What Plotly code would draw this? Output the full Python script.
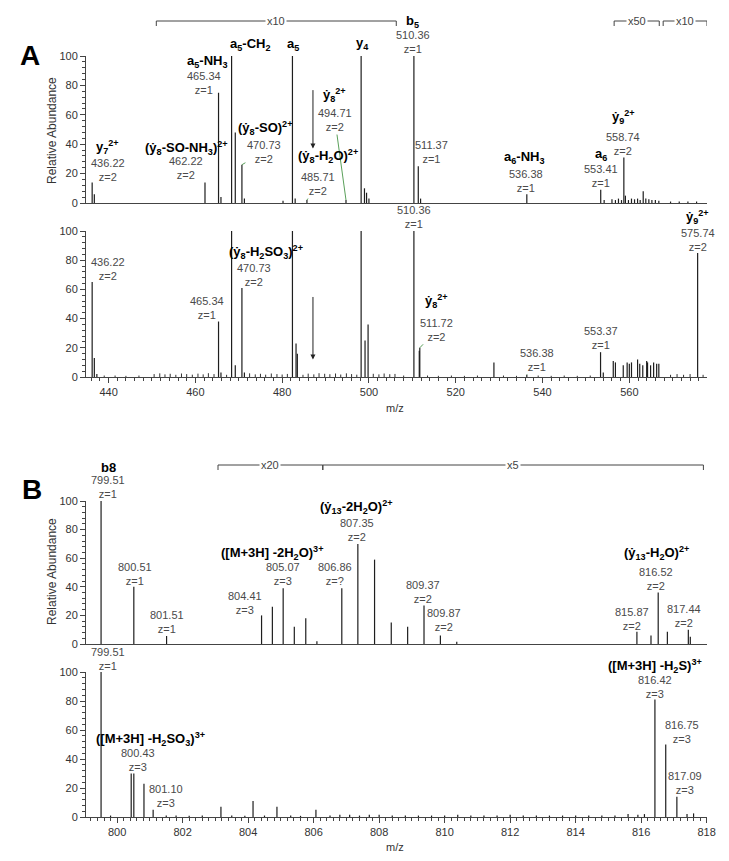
import plotly.graph_objects as go

# ---------------- data: panel A (m/z 435-578) ----------------
a_top_mz = [436.22, 436.72, 462.22, 465.34, 465.9, 468.35, 469.2, 470.73, 471.3, 480.2,
            482.37, 483.0, 485.71, 494.71, 498.2, 498.97, 499.45, 500.0, 510.36, 511.37,
            511.9, 536.38, 553.41, 554.2, 556.0, 556.8, 557.5, 558.2, 558.74, 559.1,
            559.8, 560.5, 561.2, 561.9, 562.5, 563.2, 563.8, 564.5, 565.2, 566.0,
            566.8, 569.5, 571.5, 573.5, 575.5]
a_top_int = [14, 6, 14, 75, 4, 100, 48, 26, 3, 1.5,
             100, 3, 2, 2, 100, 10, 7, 3, 100, 25,
             3, 6, 9, 2, 2.5, 2, 3, 2, 31, 5,
             2, 3, 2.5, 3, 2, 8, 3, 2.5, 2, 2,
             1.5, 1, 1, 1, 1]

a_bot_mz = [436.22, 436.72, 437.3, 465.34, 465.9, 468.35, 469.2, 470.73, 471.3, 482.37,
            483.2, 483.5, 498.2, 499.1, 499.8, 510.36, 511.6, 511.72, 528.8, 536.38,
            553.37, 554.0, 556.3, 556.8, 558.6, 559.5, 560.0, 560.5, 561.9, 562.4,
            563.1, 564.0, 564.2, 564.9, 565.6, 566.3, 566.8, 575.74]
a_bot_int = [65, 13, 2, 38, 3, 100, 8, 61, 3, 100,
             23, 16, 100, 25, 36, 100, 18, 20, 10, 1.5,
             17, 3, 11, 10, 8, 10, 9, 10, 12, 9,
             8, 11, 10, 8, 10, 9, 9, 85]

# baseline noise of the lower A spectrum
a_noise_mz = [439.0, 441.5, 444.0, 447.0, 450.5, 451.8, 453.0, 454.2, 455.5, 456.8,
              458.0, 459.3, 460.6, 461.8, 463.0, 464.3, 467.2, 472.5, 473.8, 475.0,
              476.2, 477.5, 478.8, 480.0, 481.2, 484.8, 486.0, 487.3, 488.5, 489.8,
              491.0, 492.3, 493.5, 494.8, 496.0, 497.2, 501.0, 502.3, 503.5, 504.8,
              506.0, 508.0, 513.5, 516.0, 519.0, 522.0, 525.0, 531.0, 534.0, 539.0,
              542.0, 545.0, 548.0, 551.0, 569.5, 571.0, 572.5, 574.0, 577.0]
a_noise_int = [1, 1, 0.8, 1, 2, 2.5, 1.8, 2.2, 1.5, 2.4,
               2, 1.6, 2.3, 1.8, 2.6, 2, 1.5, 2.5, 1.8, 2.2,
               1.6, 2.4, 2, 1.7, 2.1, 1.5, 2.3, 1.8, 2.6, 2.2,
               1.9, 2.4, 1.7, 2.5, 2, 1.6, 2.2, 1.8, 2.4, 1.9,
               2.1, 1, 1, 0.8, 1, 0.8, 1, 1, 0.8, 1,
               0.8, 1, 0.8, 1, 1.5, 2, 1.5, 2, 1.5]

# ---------------- data: panel B (m/z 799-818) ----------------
b_top_mz = [799.51, 800.51, 801.51, 804.41, 804.74, 805.07, 805.41, 805.76, 806.1, 806.86,
            807.35, 807.86, 808.37, 808.87, 809.37, 809.87, 810.37, 815.87, 816.3, 816.52,
            816.8, 817.44, 817.5]
b_top_int = [100, 40, 5.6, 20, 26, 39, 12, 18, 2, 39,
             70, 59, 15, 12, 27, 6, 1.5, 8.5, 6, 36,
             8.5, 10, 5]

b_bot_mz = [799.51, 799.8, 800.43, 800.51, 800.82, 801.10, 801.5, 801.8, 802.2, 802.6,
            803.17, 803.5, 803.9, 804.15, 804.5, 804.88, 805.3, 805.6, 806.07, 806.5,
            806.8, 807.1, 807.4, 807.7, 808.0, 808.4, 808.8, 809.2, 809.6, 810.0,
            810.4, 810.8, 811.2, 811.6, 812.0, 812.4, 812.8, 813.2, 813.6, 814.0,
            814.4, 814.8, 815.2, 815.6, 815.9, 816.1, 816.42, 816.75, 817.09, 817.4,
            817.6]
b_bot_int = [100, 1, 30, 30, 23, 5, 1, 1, 0.8, 1,
             7, 1, 0.8, 11, 1, 7, 1, 0.8, 5, 1,
             1.5, 1.5, 1, 1.5, 1.5, 1, 1, 1, 1, 1,
             1.5, 1, 1, 1, 1.5, 1, 1, 1, 1, 1,
             1, 1, 1, 2, 1.5, 2, 81, 50, 14, 2,
             2.5]

# magnification brackets (start m/z, end m/z, factor)
mag_a = [(451.0, 506.3, "x10"), (556.5, 566.9, "x50"), (567.8, 577.9, "x10")]
mag_b = [(803.08, 806.28, "x20"), (806.28, 817.9, "x5")]

# arrow markers (m/z of missing ion)
arrow_a_mz = 487.1

# peak labels: (peak m/z, peak intensity, text, dx px, dy px, connector colour)
GREEN = "#5aa05a"
GREY = "#777777"
blocks_a_top = [
    (436.22, 14, "436.22<br>z=2", 16, 12, GREEN),
    (462.22, 14, "462.22<br>z=2", -19, 14, None),
    (465.34, 75, "465.34<br>z=1", -15, 10, None),
    (470.73, 26, "470.73<br>z=2", 22, 13, GREEN),
    (485.71, 2, "485.71<br>z=2", 11, 16, GREEN),
    (494.71, 2, "494.71<br>z=2", -11, 80, GREEN),
    (510.36, 100, "510.36<br>z=1", -1, 14, None),
    (511.37, 25, "511.37<br>z=1", 13, 14, GREEN),
    (536.38, 6, "536.38<br>z=1", -1, 13, None),
    (553.41, 9, "553.41<br>z=1", 0, 14, None),
    (558.74, 31, "558.74<br>z=2", -1, 13, None),
]
ions_a_top = [
    (436.22, 14, "y<sub>7</sub><sup>2+</sup>", 15, 35),
    (462.22, 14, "(ẏ<sub>8</sub>-SO-NH<sub>3</sub>)<sup>2+</sup>", -18, 34),
    (465.34, 75, "a<sub>5</sub>-NH<sub>3</sub>", -12, 31),
    (468.35, 100, "a<sub>5</sub>-CH<sub>2</sub>", 18, 12),
    (470.73, 26, "(ẏ<sub>8</sub>-SO)<sup>2+</sup>", 23, 37),
    (482.37, 100, "a<sub>5</sub>", 1, 12),
    (494.71, 2, "ẏ<sub>8</sub><sup>2+</sup>", -11, 105),
    (485.71, 2, "(ẏ<sub>8</sub>-H<sub>2</sub>O)<sup>2+</sup>", 21, 44),
    (498.2, 100, "y<sub>4</sub>", 1, 13),
    (510.36, 100, "b<sub>5</sub>", -1, 35),
    (536.38, 6, "a<sub>6</sub>-NH<sub>3</sub>", -3, 37),
    (553.41, 9, "a<sub>6</sub>", 0, 35),
    (558.74, 31, "ẏ<sub>9</sub><sup>2+</sup>", 0, 40),
]
blocks_a_bot = [
    (436.22, 65, "436.22<br>z=2", 16, 13, GREEN),
    (465.34, 38, "465.34<br>z=1", -12, 14, None),
    (470.73, 61, "470.73<br>z=2", 12, 13, GREEN),
    (510.36, 100, "510.36<br>z=1", 0, 14, None),
    (511.72, 20, "511.72<br>z=2", 17, 18, GREEN),
    (536.38, 1.5, "536.38<br>z=1", 10, 15, GREEN),
    (553.37, 17, "553.37<br>z=1", 0, 14, None),
    (575.74, 85, "575.74<br>z=2", 0, 13, None),
]
ions_a_bot = [
    (470.73, 61, "(ẏ<sub>8</sub>-H<sub>2</sub>SO<sub>3</sub>)<sup>2+</sup>", 24, 36),
    (511.72, 20, "ẏ<sub>8</sub><sup>2+</sup>", 17, 47),
    (575.74, 85, "ẏ<sub>9</sub><sup>2+</sup>", 0, 36),
]
blocks_b_top = [
    (799.51, 100, "799.51<br>z=1", 7, 14, None),
    (800.51, 40, "800.51<br>z=1", 1, 13, None),
    (801.51, 5.6, "801.51<br>z=1", 0, 14, None),
    (804.41, 20, "804.41<br>z=3", -17, 12, GREY),
    (805.07, 39, "805.07<br>z=3", 0, 14, None),
    (806.86, 39, "806.86<br>z=?", -7, 14, None),
    (807.35, 70, "807.35<br>z=2", -1, 14, None),
    (809.37, 27, "809.37<br>z=2", -1, 13, None),
    (809.87, 6, "809.87<br>z=2", 4, 15, None),
    (815.87, 8.5, "815.87<br>z=2", -5, 13, None),
    (816.52, 36, "816.52<br>z=2", -2, 14, None),
    (817.44, 10, "817.44<br>z=2", -4, 14, None),
]
ions_b_top = [
    (799.51, 100, "b8", 7, 34),
    (805.07, 39, "([M+3H] -2H<sub>2</sub>O)<sup>3+</sup>", -11, 35),
    (807.35, 70, "(ẏ<sub>13</sub>-2H<sub>2</sub>O)<sup>2+</sup>", -1, 37),
    (816.52, 36, "(ẏ<sub>13</sub>-H<sub>2</sub>O)<sup>2+</sup>", -2, 40),
]
blocks_b_bot = [
    (799.51, 100, "799.51<br>z=1", 7, 13, None),
    (800.43, 30, "800.43<br>z=3", 7, 14, None),
    (801.10, 5, "801.10<br>z=3", 13, 14, GREY),
    (816.42, 81, "816.42<br>z=3", 0, 13, None),
    (816.75, 50, "816.75<br>z=3", 16, 13, GREY),
    (817.09, 14, "817.09<br>z=3", 8, 14, GREY),
]
ions_b_bot = [
    (800.43, 30, "([M+3H] -H<sub>2</sub>SO<sub>3</sub>)<sup>3+</sup>", 19, 35),
    (816.42, 81, "([M+3H] -H<sub>2</sub>S)<sup>3+</sup>", 0, 34),
]

# ---------------- figure ----------------
FONT = "Liberation Sans, Arial, sans-serif"
OFF = 8                      # page body margin of the html page
W, H = 729 - OFF, 861 - OFF


def fx(p):
    return (p - OFF) / W


def fy(p):
    return 1 - (p - OFF) / H


XDOM = [fx(86), fx(707)]
doms = {
    "": [fy(203), fy(56)],
    "2": [fy(377), fy(231)],
    "3": [fy(644), fy(501)],
    "4": [fy(817), fy(672)],
}


def sticks(mz, inten):
    xs, ys = [], []
    for m, v in zip(mz, inten):
        xs += [m, m, None]
        ys += [0, v, None]
    return xs, ys


fig = go.Figure()


def add_spec(mz, inten, ax, width=1.2, color="#1e1e1e"):
    xs, ys = sticks(mz, inten)
    fig.add_trace(go.Scatter(x=xs, y=ys, mode="lines", xaxis="x" + ax, yaxis="y" + ax,
                             line=dict(color=color, width=width), hoverinfo="skip",
                             showlegend=False))


add_spec(a_top_mz, a_top_int, "")
add_spec(a_bot_mz, a_bot_int, "2")
add_spec(a_noise_mz, a_noise_int, "2", width=1.0, color="#333333")
add_spec(b_top_mz, b_top_int, "3")
add_spec(b_bot_mz, b_bot_int, "4")

ann = []


def add_blocks(blocks, ax):
    for m, v, txt, dx, dy, conn in blocks:
        d = dict(x=m, y=v, xref="x" + ax, yref="y" + ax, text=txt,
                 font=dict(family=FONT, size=11, color="#4a4a4a"), align="center")
        if conn:
            d.update(showarrow=True, ax=dx, ay=-dy, arrowhead=0, arrowwidth=1,
                     arrowcolor=conn, standoff=0, startstandoff=0)
        else:
            d.update(showarrow=False, xshift=dx, yshift=dy, xanchor="center", yanchor="middle")
        ann.append(d)


def add_ions(ions, ax):
    for m, v, txt, dx, dy in ions:
        ann.append(dict(x=m, y=v, xref="x" + ax, yref="y" + ax, text="<b>" + txt + "</b>",
                        showarrow=False, xshift=dx, yshift=dy, xanchor="center", yanchor="middle",
                        font=dict(family=FONT, size=13, color="#000000")))


add_blocks(blocks_a_top, "")
add_ions(ions_a_top, "")
add_blocks(blocks_a_bot, "2")
add_ions(ions_a_bot, "2")
add_blocks(blocks_b_top, "3")
add_ions(ions_b_top, "3")
add_blocks(blocks_b_bot, "4")
add_ions(ions_b_bot, "4")

# arrows marking missing ion
ann.append(dict(x=arrow_a_mz, y=37, xref="x", yref="y", text="", showarrow=True, ax=0, ay=-60,
                arrowhead=2, arrowsize=1, arrowwidth=1, arrowcolor="#222222"))
ann.append(dict(x=arrow_a_mz, y=12, xref="x2", yref="y2", text="", showarrow=True, ax=0, ay=-64,
                arrowhead=2, arrowsize=1, arrowwidth=1, arrowcolor="#222222"))

shapes = []


def add_mag(mags, xref, ypx):
    yp = fy(ypx)
    tick = 5 / H
    for x0, x1, lab in mags:
        shapes.append(dict(type="line", xref=xref, yref="paper", x0=x0, x1=x1, y0=yp, y1=yp,
                           line=dict(color="#444444", width=1)))
        for xe in (x0, x1):
            shapes.append(dict(type="line", xref=xref, yref="paper", x0=xe, x1=xe, y0=yp,
                               y1=yp - tick, line=dict(color="#444444", width=1)))
        ann.append(dict(x=(x0 + x1) / 2, y=yp, xref=xref, yref="paper", text=lab, showarrow=False,
                        bgcolor="white", borderpad=1, xanchor="center", yanchor="middle",
                        font=dict(family=FONT, size=11, color="#444444")))


add_mag(mag_a, "x", 21)
add_mag(mag_b, "x3", 465)

# panel letters, axis titles
for txt, xp, yp in [("A", 30, 55), ("B", 32, 489)]:
    ann.append(dict(x=fx(xp), y=fy(yp), xref="paper", yref="paper", text="<b>" + txt + "</b>",
                    showarrow=False, xanchor="center", yanchor="middle",
                    font=dict(family="Arial Black, " + FONT, size=28, color="black")))
for yp in (131, 572):
    ann.append(dict(x=fx(52), y=fy(yp), xref="paper", yref="paper", text="Relative Abundance",
                    textangle=-90, showarrow=False, xanchor="center", yanchor="middle",
                    font=dict(family=FONT, size=12, color="#333333")))
for yp in (408, 847):
    ann.append(dict(x=fx(395), y=fy(yp), xref="paper", yref="paper", text="m/z",
                    showarrow=False, xanchor="center", yanchor="middle",
                    font=dict(family=FONT, size=11, color="#333333")))

yax = dict(range=[0, 100], tickvals=[0, 20, 40, 60, 80, 100], ticks="outside", ticklen=5,
           tickcolor="#444", showline=True, linecolor="#444", linewidth=1, showgrid=False,
           zeroline=False, tickfont=dict(family=FONT, size=11, color="#333"),
           minor=dict(dtick=4, tick0=0, ticks="outside", ticklen=3, tickcolor="#444"),
           automargin=False)


def xax(rng, labels, dtick=None, minor=None, anchor=""):
    d = dict(range=rng, domain=XDOM, showline=True, linecolor="#444", linewidth=1,
             showgrid=False, zeroline=False, automargin=False, anchor="y" + anchor)
    if labels:
        d.update(ticks="outside", ticklen=5, tickcolor="#444", dtick=dtick, tick0=0,
                 tickfont=dict(family=FONT, size=11, color="#333"),
                 minor=dict(dtick=minor, ticks="outside", ticklen=3, tickcolor="#444"))
    else:
        d.update(showticklabels=False, ticks="")
    return d


RA = [434.8, 577.9]
RB = [799.05, 818.01]
fig.update_layout(
    width=W, height=H, margin=dict(l=0, r=0, t=0, b=0),
    paper_bgcolor="white", plot_bgcolor="white", showlegend=False,
    xaxis=xax(RA, False, anchor=""),
    xaxis2=xax(RA, True, 20, 2, anchor="2"),
    xaxis3=xax(RB, False, anchor="3"),
    xaxis4=xax(RB, True, 2, 0.2, anchor="4"),
    yaxis=dict(yax, domain=doms[""], anchor="x"),
    yaxis2=dict(yax, domain=doms["2"], anchor="x2"),
    yaxis3=dict(yax, domain=doms["3"], anchor="x3"),
    yaxis4=dict(yax, domain=doms["4"], anchor="x4"),
    annotations=ann, shapes=shapes,
)

fig.write_html("out.html")
